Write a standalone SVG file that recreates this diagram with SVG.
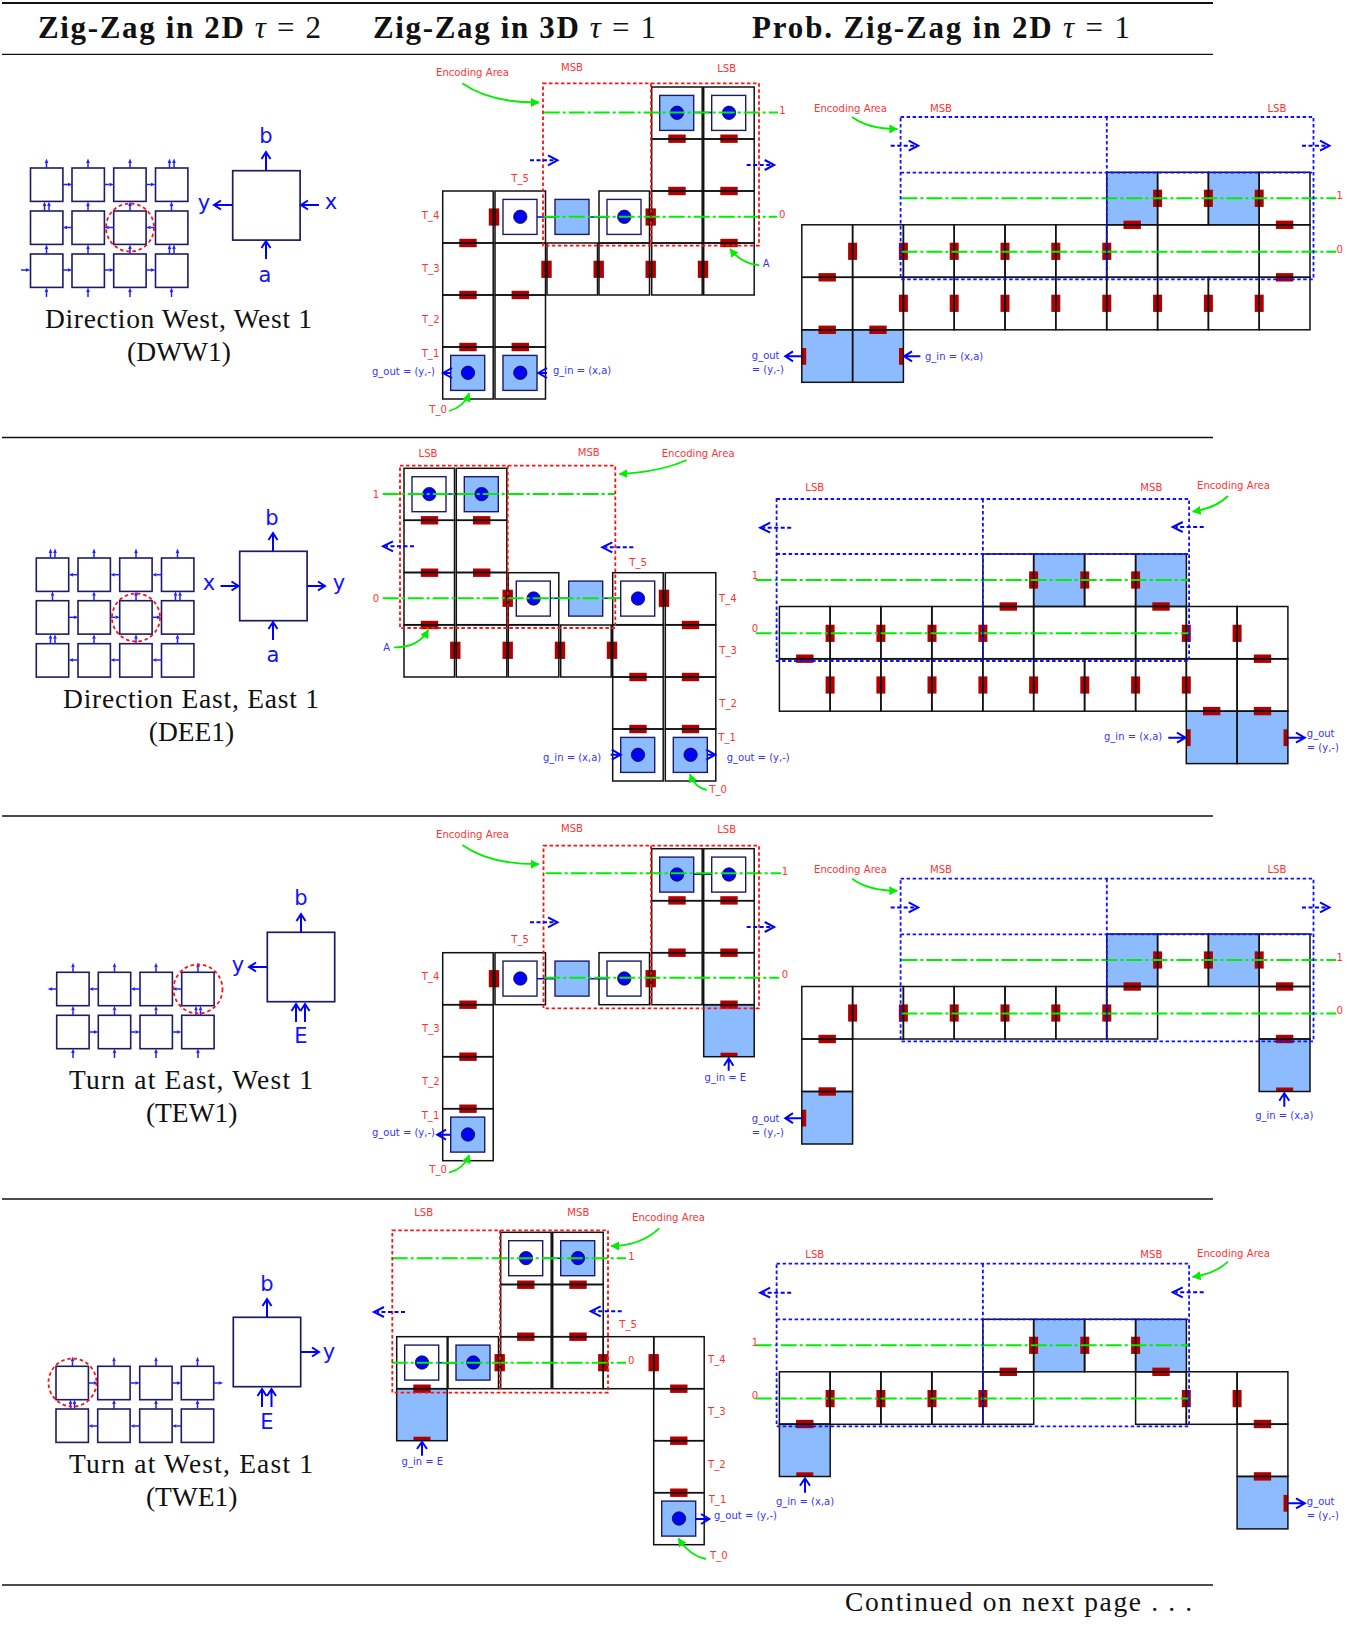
<svg xmlns="http://www.w3.org/2000/svg" width="1358" height="1625" viewBox="0 0 1358 1625">
<style>
text{font-family:"DejaVu Sans",sans-serif}
.cm{font-family:"Liberation Serif",serif;font-size:27.5px;fill:#111}
.hd{font-family:"Liberation Serif",serif;font-size:31px;fill:#111}
.hd .b{font-weight:bold}.hd .i{font-style:italic}
.big{font-size:21px;fill:#11f;text-anchor:middle}
.lr{font-size:10.1px;fill:#f33}
.lb{font-size:10px;fill:#33f}
.rule{stroke:#111;fill:none}
.cell{fill:none;stroke:#111;stroke-width:1.5}
.tile{fill:#fff;stroke:#1c1c66;stroke-width:1.6}
.bigt{fill:#fff;stroke:#1c1c66;stroke-width:1.7}
.fillb{fill:#8cbcff}
.inner{stroke:#1c1c66;stroke-width:1.4}
.dot{fill:#00f;stroke:#111;stroke-width:.8}
.r{fill:#b00000}
.ar{fill:none;stroke:#00f;stroke-width:2}
.ln{fill:none;stroke:#22f;stroke-width:1.5}
.hh{fill:#22f}
.g{fill:none;stroke:#00ee00;stroke-width:2;stroke-dasharray:16 3 3 3}
.ga{fill:none;stroke:#00ee00;stroke-width:1.8;marker-end:url(#gh)}
.dr{fill:none;stroke:#f11;stroke-width:1.8;stroke-dasharray:3.5 2.5}
.db{fill:none;stroke:#11f;stroke-width:1.8;stroke-dasharray:3.5 2.5}
.cn{fill:none;stroke:#00f;stroke-width:1.6}
.circ{fill:none;stroke:#f11;stroke-width:1.8;stroke-dasharray:3.5 2.8}
</style>
<defs>
<marker id="gh" markerUnits="userSpaceOnUse" markerWidth="10" markerHeight="10" refX="8" refY="4.5" orient="auto"><path d="M0 0L8.5 4.5L0 9Z" fill="#00ee00"/></marker>
<rect id="h" class="r" x="-8.7" y="-4.2" width="17.4" height="8.4"/>
<rect id="v" class="r" x="-5.2" y="-8.6" width="10.4" height="17.2"/>
<rect id="w" class="r" x="-4.5" y="-8.6" width="9" height="17.2"/>
<rect id="c" class="cell" width="50.5" height="52"/>
<rect id="p" class="cell" width="50.8" height="52.5"/>
<rect id="pf" class="fillb" width="50.8" height="52.5"/>
<rect id="cf" class="fillb" width="50.5" height="52"/>
<g id="iw"><rect class="inner" x="8" y="8.4" width="34" height="35" fill="#fff"/><circle class="dot" cx="25.3" cy="25.8" r="6.7"/></g>
<g id="ib"><rect class="inner fillb" x="8" y="8.4" width="34" height="35"/><circle class="dot" cx="25.3" cy="25.8" r="6.7"/></g>
<rect id="bb" class="inner fillb" x="8" y="8.4" width="34" height="35"/>
<rect id="t" class="tile" width="32.4" height="33.4"/>
<rect id="T" class="bigt" width="67.4" height="69.4"/>
<g id="au"><path class="ln" d="M0 0V-5"/><path class="hh" d="M-1.8-5L0-9.5L1.8-5Z"/></g>
<g id="ar"><path class="ln" d="M0 0H5"/><path class="hh" d="M5-1.8L9.5 0L5 1.8Z"/></g>
<g id="al"><path class="ln" d="M0 0H-5"/><path class="hh" d="M-5-1.8L-9.5 0L-5 1.8Z"/></g>
<path id="U" class="ar" d="M0 0V-18M-4.5-11L0-18L4.5-11"/>
<path id="R" class="ar" d="M0 0H18M11-4.5L18 0L11 4.5"/>
<path id="L" class="ar" d="M0 0H-18M-11-4.5L-18 0L-11 4.5"/>
<g id="dR"><path class="ar" d="M0 0H24" stroke-dasharray="4 2.5"/><path class="ar" d="M18-5L27.5 0L18 5"/></g>
<g id="dL"><path class="ar" d="M0 0H-28" stroke-dasharray="4 2.5"/><path class="ar" d="M-21-5L-31 0L-21 5"/></g>
</defs>

<g id="rules">
<path class="rule" stroke-width="2.2" d="M2 3H1213"/>
<path class="rule" stroke-width="1.3" d="M2 54.3H1213M2 437.5H1213M2 816H1213M2 1199H1213M2 1585H1213"/>
</g>
<g id="header">
<text class="hd" x="38" y="38" textLength="283" lengthAdjust="spacing"><tspan class="b">Zig-Zag in 2D </tspan><tspan class="i">τ</tspan> = 2</text>
<text class="hd" x="373" y="38" textLength="283" lengthAdjust="spacing"><tspan class="b">Zig-Zag in 3D </tspan><tspan class="i">τ</tspan> = 1</text>
<text class="hd" x="752" y="38" textLength="378" lengthAdjust="spacing"><tspan class="b">Prob. Zig-Zag in 2D </tspan><tspan class="i">τ</tspan> = 1</text>
</g>

<!-- ROW 1 LEFT -->
<g id="dww1-grid">
<use href="#t" x="30.5" y="168"/><use href="#t" x="72" y="168"/><use href="#t" x="113.7" y="168"/><use href="#t" x="155.5" y="168"/>
<use href="#t" x="30.5" y="211"/><use href="#t" x="72" y="211"/><use href="#t" x="113.7" y="211"/><use href="#t" x="155.5" y="211"/>
<use href="#t" x="30.5" y="254"/><use href="#t" x="72" y="254"/><use href="#t" x="113.7" y="254"/><use href="#t" x="155.5" y="254"/>
<g id="dww1-arrows">
<use href="#au" x="46.5" y="168"/><use href="#au" x="88" y="168"/><use href="#au" x="130" y="168"/><use href="#au" x="169.5" y="168"/><use href="#au" x="174" y="168"/>
<use href="#au" x="44.5" y="211"/><use href="#au" x="49" y="211"/><use href="#au" x="88" y="211"/><use href="#au" x="130" y="211"/><use href="#au" x="171.5" y="211"/>
<use href="#au" x="46.5" y="254"/><use href="#au" x="88" y="254"/><use href="#au" x="130" y="254"/><use href="#au" x="169.5" y="254"/><use href="#au" x="174" y="254"/>
<use href="#au" x="46.5" y="297"/><use href="#au" x="88" y="297"/><use href="#au" x="130" y="297"/><use href="#au" x="171.5" y="297"/>
<use href="#ar" x="63" y="184.5"/><use href="#ar" x="104.5" y="184.5"/><use href="#ar" x="146" y="184.5"/>
<use href="#al" x="72" y="227.5"/><use href="#al" x="113.7" y="227.5"/><use href="#al" x="155.5" y="227.5"/>
<use href="#ar" x="21" y="270"/><use href="#ar" x="63" y="270"/><use href="#ar" x="104.5" y="270"/><use href="#ar" x="146" y="270"/>
</g>
<circle class="circ" cx="130" cy="227.5" r="24"/>
</g>
<g id="dww1-tile">
<use href="#T" x="232.7" y="170.7"/>
<use href="#U" x="266" y="170"/><use href="#L" x="232" y="205"/><use href="#L" x="319" y="205"/><use href="#U" x="266" y="259"/>
<text class="big" x="266" y="143">b</text><text class="big" x="204" y="210">y</text><text class="big" x="331" y="209">x</text><text class="big" x="265" y="282">a</text>
</g>
<g id="dww1-caption">
<text class="cm" x="45" y="328" textLength="267" lengthAdjust="spacing">Direction West, West 1</text>
<text class="cm" x="179" y="361" text-anchor="middle">(DWW1)</text>
</g>

<!-- ROW 1 MIDDLE -->
<g id="m1">
<path class="cn" d="M537 217H608M694 112.5H712"/>
<use href="#h" x="677" y="138.7"/><use href="#h" x="729" y="138.7"/><use href="#h" x="677" y="191"/><use href="#h" x="729" y="191"/><use href="#h" x="468" y="243"/><use href="#h" x="729" y="243"/><use href="#h" x="468" y="295"/><use href="#h" x="520.3" y="295"/><use href="#h" x="468" y="347"/><use href="#h" x="520.3" y="347"/>
<use href="#v" x="494" y="217"/><use href="#v" x="650.7" y="217"/><use href="#v" x="546.5" y="269.3"/><use href="#v" x="598.7" y="269.3"/><use href="#v" x="650.7" y="269.3"/><use href="#v" x="703" y="269.3"/>
<use href="#c" x="651.7" y="87"/><use href="#c" x="703.7" y="87"/><use href="#c" x="651.7" y="139"/><use href="#c" x="703.7" y="139"/>
<use href="#c" x="442.7" y="191"/><use href="#c" x="495" y="191"/><use href="#c" x="599" y="191"/><use href="#c" x="651.7" y="191"/><use href="#c" x="703.7" y="191"/>
<use href="#c" x="442.7" y="243"/><use href="#c" x="495" y="243"/><use href="#c" x="547" y="243"/><use href="#c" x="599" y="243"/><use href="#c" x="651.7" y="243"/><use href="#c" x="703.7" y="243"/>
<use href="#c" x="442.7" y="295"/><use href="#c" x="495" y="295"/><use href="#c" x="442.7" y="347"/><use href="#c" x="495" y="347"/>
<use href="#ib" x="651.7" y="87"/><use href="#iw" x="703.7" y="87"/><use href="#iw" x="495" y="191"/><use href="#bb" x="547" y="191"/><use href="#iw" x="599" y="191"/><use href="#ib" x="442.7" y="347"/><use href="#ib" x="495" y="347"/>
<path class="g" d="M543.7 112.5H778M543.7 216.7H777"/>
<path class="dr" d="M543 83.3H759V245.7H543ZM651 83.3V245.7"/>
<use href="#dR" x="530" y="160.3"/><use href="#dR" x="746.7" y="165"/>
<path class="ar" d="M451 373H443M452 368L443 373L452 378M547 373H538.3M547 368L538.3 373L547 378"/>
<path class="ga" d="M462.3 83.3Q490 103 539 102.5"/><path class="ga" d="M759.3 265.3Q742 264 730 249"/><path class="ga" d="M449 411Q464 407 469.3 393.3"/>
<text class="lr" x="436" y="76">Encoding Area</text><text class="lr" x="572" y="70.7" text-anchor="middle">MSB</text><text class="lr" x="726.7" y="72" text-anchor="middle">LSB</text>
<text class="lr" x="511.3" y="182">T_5</text><text class="lr" x="421.7" y="219">T_4</text><text class="lr" x="422" y="271.7">T_3</text><text class="lr" x="422" y="323.3">T_2</text><text class="lr" x="421.7" y="357.3">T_1</text><text class="lr" x="429.3" y="412.7">T_0</text>
<text class="lr" x="779.3" y="114">1</text><text class="lr" x="779" y="217.7">0</text>
<text class="lb" x="372" y="375">g_out = (y,-)</text><text class="lb" x="553" y="374">g_in = (x,a)</text><text class="lb" x="762.7" y="266.7">A</text>
</g>

<!-- ROW 1 RIGHT -->
<g id="p1">
<use href="#pf" x="1106.8" y="172.3"/><use href="#pf" x="1208.4" y="172.3"/><use href="#pf" x="801.8" y="329.8"/><use href="#pf" x="852.6" y="329.8"/>
<use href="#w" x="1157.6" y="198.3"/><use href="#w" x="1208.4" y="198.3"/><use href="#w" x="1259.2" y="198.3"/>
<use href="#w" x="852.6" y="251.3"/><use href="#w" x="903.4" y="251.3"/><use href="#w" x="954.2" y="251.3"/><use href="#w" x="1005" y="251.3"/><use href="#w" x="1055.8" y="251.3"/><use href="#w" x="1106.8" y="251.3"/>
<use href="#w" x="903.4" y="303.3"/><use href="#w" x="954.2" y="303.3"/><use href="#w" x="1005" y="303.3"/><use href="#w" x="1055.8" y="303.3"/><use href="#w" x="1106.8" y="303.3"/><use href="#w" x="1157.6" y="303.3"/><use href="#w" x="1208.4" y="303.3"/><use href="#w" x="1259.2" y="303.3"/>
<use href="#h" x="1132.2" y="224.8"/><use href="#h" x="1284.6" y="224.8"/><use href="#h" x="827.2" y="277.3"/><use href="#h" x="1284.6" y="277.3"/><use href="#h" x="827.2" y="329.8"/><use href="#h" x="878" y="329.8"/>
<rect class="r" x="801.8" y="348" width="4.4" height="16.8"/><rect class="r" x="899" y="348" width="4.4" height="16.8"/>
<use href="#p" x="1106.8" y="172.3"/><use href="#p" x="1157.6" y="172.3"/><use href="#p" x="1208.4" y="172.3"/><use href="#p" x="1259.2" y="172.3"/>
<use href="#p" x="801.8" y="224.8"/><use href="#p" x="852.6" y="224.8"/><use href="#p" x="903.4" y="224.8"/><use href="#p" x="954.2" y="224.8"/><use href="#p" x="1005" y="224.8"/><use href="#p" x="1055.8" y="224.8"/><use href="#p" x="1106.8" y="224.8"/>
<rect class="cell" x="1157.6" y="224.8" width="101.6" height="52.5"/><use href="#p" x="1259.2" y="224.8"/>
<use href="#p" x="801.8" y="277.3"/><use href="#p" x="852.6" y="277.3"/><use href="#p" x="903.4" y="277.3"/><use href="#p" x="954.2" y="277.3"/><use href="#p" x="1005" y="277.3"/><use href="#p" x="1055.8" y="277.3"/><use href="#p" x="1106.8" y="277.3"/><use href="#p" x="1157.6" y="277.3"/><use href="#p" x="1208.4" y="277.3"/><use href="#p" x="1259.2" y="277.3"/>
<use href="#p" x="801.8" y="329.8"/><use href="#p" x="852.6" y="329.8"/>
<path class="g" d="M901.4 198.3H1336.3M901.4 251.7H1336.3"/>
<path class="db" d="M900.6 117H1313.5V279.3H900.6ZM900.6 172.7H1313.5M1106.8 117V279.3"/>
<use href="#dR" x="890.7" y="145.7"/><use href="#dR" x="1302" y="145.7"/>
<path class="ar" d="M801.8 356.3H785.3M793 351.3L785.3 356.3L793 361.3M920.3 356.3H904M912 351.3L904 356.3L912 361.3"/>
<path class="ga" d="M852.2 117Q868 129 897.4 129"/>
<text class="lr" x="814" y="111.7">Encoding Area</text><text class="lr" x="941" y="111.7" text-anchor="middle">MSB</text><text class="lr" x="1276.9" y="111.7" text-anchor="middle">LSB</text>
<text class="lr" x="1336.5" y="199.3">1</text><text class="lr" x="1336.5" y="252.7">0</text>
<text class="lb" x="751.8" y="359.3">g_out</text><text class="lb" x="751.8" y="373.3">= (y,-)</text><text class="lb" x="925" y="360">g_in = (x,a)</text>
</g>

<!-- ROW 2 LEFT -->
<g id="dee1-grid">
<use href="#t" x="36.3" y="558"/><use href="#t" x="78" y="558"/><use href="#t" x="119.7" y="558"/><use href="#t" x="161.5" y="558"/>
<use href="#t" x="36.3" y="600.7"/><use href="#t" x="78" y="600.7"/><use href="#t" x="119.7" y="600.7"/><use href="#t" x="161.5" y="600.7"/>
<use href="#t" x="36.3" y="643.7"/><use href="#t" x="78" y="643.7"/><use href="#t" x="119.7" y="643.7"/><use href="#t" x="161.5" y="643.7"/>
<g id="dee1-arrows">
<use href="#au" x="50.5" y="558"/><use href="#au" x="55" y="558"/><use href="#au" x="94" y="558"/><use href="#au" x="136" y="558"/><use href="#au" x="177.5" y="558"/>
<use href="#au" x="52.5" y="600.7"/><use href="#au" x="94" y="600.7"/><use href="#au" x="136" y="600.7"/><use href="#au" x="175.5" y="600.7"/><use href="#au" x="180" y="600.7"/>
<use href="#au" x="50.5" y="643.7"/><use href="#au" x="55" y="643.7"/><use href="#au" x="94" y="643.7"/><use href="#au" x="136" y="643.7"/><use href="#au" x="177.5" y="643.7"/>
<use href="#al" x="78" y="574.7"/><use href="#al" x="119.7" y="574.7"/><use href="#al" x="161.5" y="574.7"/>
<use href="#ar" x="69" y="617.3"/><use href="#ar" x="110.5" y="617.3"/><use href="#ar" x="152" y="617.3"/>
<use href="#al" x="78" y="660"/><use href="#al" x="119.7" y="660"/><use href="#al" x="161.5" y="660"/>
</g>
<circle class="circ" cx="136" cy="617.5" r="24"/>
</g>
<g id="dee1-tile">
<use href="#T" x="239.7" y="551.3"/>
<use href="#U" x="273" y="551"/><use href="#R" x="307" y="586"/><use href="#R" x="220.5" y="586"/><use href="#U" x="273" y="640"/>
<text class="big" x="272" y="525">b</text><text class="big" x="209" y="590">x</text><text class="big" x="339" y="590">y</text><text class="big" x="273" y="661.7">a</text>
</g>
<g id="dee1-caption">
<text class="cm" x="63" y="708" textLength="256" lengthAdjust="spacing">Direction East, East 1</text>
<text class="cm" x="191.5" y="741" text-anchor="middle">(DEE1)</text>
</g>

<!-- ROW 2 MIDDLE -->
<g id="m2">
<path class="cn" d="M446.7 494H464M551 598.3H620.7"/>
<use href="#h" x="429.5" y="520.3"/><use href="#h" x="481.7" y="520.3"/><use href="#h" x="429.5" y="572.7"/><use href="#h" x="481.7" y="572.7"/><use href="#h" x="429.5" y="625"/><use href="#h" x="690.5" y="625"/><use href="#h" x="638" y="677"/><use href="#h" x="690.5" y="677"/><use href="#h" x="638" y="729"/><use href="#h" x="690.5" y="729"/>
<use href="#v" x="507.7" y="598.3"/><use href="#v" x="664" y="598.3"/><use href="#v" x="455.3" y="650.3"/><use href="#v" x="507.7" y="650.3"/><use href="#v" x="560" y="650.3"/><use href="#v" x="612" y="650.3"/>
<use href="#c" x="404" y="468.3"/><use href="#c" x="456.3" y="468.3"/><use href="#c" x="404" y="520.3"/><use href="#c" x="456.3" y="520.3"/>
<use href="#c" x="404" y="572.7"/><use href="#c" x="456.3" y="572.7"/><use href="#c" x="508.3" y="572.7"/><use href="#c" x="612.7" y="572.7"/><use href="#c" x="665.3" y="572.7"/>
<use href="#c" x="404" y="625"/><use href="#c" x="456.3" y="625"/><use href="#c" x="508.3" y="625"/><use href="#c" x="560.7" y="625"/><use href="#c" x="612.7" y="625"/><use href="#c" x="665.3" y="625"/>
<use href="#c" x="612.7" y="677"/><use href="#c" x="665.3" y="677"/><use href="#c" x="612.7" y="729"/><use href="#c" x="665.3" y="729"/>
<use href="#iw" x="404" y="468.3"/><use href="#ib" x="456.3" y="468.3"/><use href="#iw" x="508.3" y="572.7"/><use href="#bb" x="560.7" y="572.7"/><use href="#iw" x="612.7" y="572.7"/><use href="#ib" x="612.7" y="729"/><use href="#ib" x="665.3" y="729"/>
<path class="g" d="M382.7 494H615M382.7 598.3H620"/>
<path class="dr" d="M400 465.7H615.3V628H400ZM507.7 465.7V628"/>
<use href="#dL" x="414" y="546.3"/><use href="#dL" x="633.3" y="547.3"/>
<path class="ar" d="M610.7 754.7H620.7M611.7 749.7L620.7 754.7L611.7 759.7M707.3 754.7H715.3M706.3 749.7L715.3 754.7L706.3 759.7"/>
<path class="ga" d="M686.7 460Q660 472 619.3 474"/><path class="ga" d="M394 647.3Q418 648 428.3 630"/><path class="ga" d="M706.7 790Q695 788 690 774.3"/>
<text class="lr" x="661.7" y="457.3">Encoding Area</text><text class="lr" x="428" y="456.7" text-anchor="middle">LSB</text><text class="lr" x="588.7" y="456" text-anchor="middle">MSB</text>
<text class="lr" x="629.3" y="566">T_5</text><text class="lr" x="719" y="602.3">T_4</text><text class="lr" x="719.3" y="654.3">T_3</text><text class="lr" x="719.3" y="706.7">T_2</text><text class="lr" x="718.3" y="740.7">T_1</text><text class="lr" x="709.3" y="792.7">T_0</text>
<text class="lr" x="372.7" y="497.7">1</text><text class="lr" x="372.7" y="602">0</text>
<text class="lb" x="543" y="760.7">g_in = (x,a)</text><text class="lb" x="726.7" y="760.7">g_out = (y,-)</text><text class="lb" x="383.3" y="650.7">A</text>
</g>

<!-- ROW 2 RIGHT -->
<g id="p2">
<use href="#pf" x="1033.6" y="554"/><use href="#pf" x="1135.6" y="554"/><use href="#pf" x="1186.3" y="711.1"/><use href="#pf" x="1237.1" y="711.1"/>
<use href="#w" x="1033.6" y="580"/><use href="#w" x="1084.8" y="580"/><use href="#w" x="1135.6" y="580"/>
<use href="#w" x="830.1" y="633.3"/><use href="#w" x="880.9" y="633.3"/><use href="#w" x="932" y="633.3"/><use href="#w" x="982.9" y="633.3"/><use href="#w" x="1186.3" y="633.3"/><use href="#w" x="1237.1" y="633.3"/>
<use href="#w" x="830.1" y="685"/><use href="#w" x="880.9" y="685"/><use href="#w" x="932" y="685"/><use href="#w" x="982.9" y="685"/><use href="#w" x="1033.6" y="685"/><use href="#w" x="1084.8" y="685"/><use href="#w" x="1135.6" y="685"/><use href="#w" x="1186.3" y="685"/>
<use href="#h" x="1008.3" y="606.5"/><use href="#h" x="1161" y="606.5"/><use href="#h" x="804.8" y="658.7"/><use href="#h" x="1262.5" y="658.7"/><use href="#h" x="1211.7" y="711.1"/><use href="#h" x="1262.5" y="711.1"/>
<rect class="r" x="1186.3" y="729.3" width="4.4" height="16.8"/><rect class="r" x="1283.5" y="729.3" width="4.4" height="16.8"/>
<use href="#p" x="982.9" y="554"/><use href="#p" x="1033.6" y="554"/><use href="#p" x="1084.8" y="554"/><use href="#p" x="1135.6" y="554"/>
<use href="#p" x="779.4" y="606.5"/><use href="#p" x="830.1" y="606.5"/><use href="#p" x="880.9" y="606.5"/><use href="#p" x="932" y="606.5"/><use href="#p" x="982.9" y="606.5"/><rect class="cell" x="1033.6" y="606.5" width="102" height="52.5"/><use href="#p" x="1135.6" y="606.5"/><use href="#p" x="1186.3" y="606.5"/><use href="#p" x="1237.1" y="606.5"/>
<use href="#p" x="779.4" y="658.7"/><use href="#p" x="830.1" y="658.7"/><use href="#p" x="880.9" y="658.7"/><use href="#p" x="932" y="658.7"/><use href="#p" x="982.9" y="658.7"/><use href="#p" x="1033.6" y="658.7"/><use href="#p" x="1084.8" y="658.7"/><use href="#p" x="1135.6" y="658.7"/><use href="#p" x="1186.3" y="658.7"/><use href="#p" x="1237.1" y="658.7"/>
<use href="#p" x="1186.3" y="711.1"/><use href="#p" x="1237.1" y="711.1"/>
<path class="g" d="M755.7 580H1189.5M755.7 633.3H1189.5"/>
<path class="db" d="M776.6 499H1189.1V661H776.6ZM776.6 554H1189.1M982.9 499V661"/>
<use href="#dL" x="791.2" y="527.7"/><use href="#dL" x="1203.7" y="527"/>
<path class="ar" d="M1168.3 737.7H1185.6M1177 732.7L1185.6 737.7L1177 742.7M1287.9 737.7H1304.8M1296 732.7L1304.8 737.7L1296 742.7"/>
<path class="ga" d="M1228 496Q1216 508 1192.6 511.7"/>
<text class="lr" x="1197" y="489">Encoding Area</text><text class="lr" x="814.8" y="490.7" text-anchor="middle">LSB</text><text class="lr" x="1151.3" y="490.7" text-anchor="middle">MSB</text>
<text class="lr" x="751.8" y="578.7">1</text><text class="lr" x="751.8" y="631.7">0</text>
<text class="lb" x="1104" y="740">g_in = (x,a)</text><text class="lb" x="1306.8" y="736.7">g_out</text><text class="lb" x="1306.8" y="751">= (y,-)</text>
</g>

<!-- ROW 3 LEFT -->
<g id="tew1-grid">
<use href="#t" x="56.7" y="972.3"/><use href="#t" x="98.3" y="972.3"/><use href="#t" x="140" y="972.3"/><use href="#t" x="181.7" y="972.3"/>
<use href="#t" x="56.7" y="1015.3"/><use href="#t" x="98.3" y="1015.3"/><use href="#t" x="140" y="1015.3"/><use href="#t" x="181.7" y="1015.3"/>
<g id="tew1-arrows">
<use href="#au" x="73" y="972.3"/><use href="#au" x="114.5" y="972.3"/><use href="#au" x="156" y="972.3"/><use href="#au" x="198" y="972.3"/>
<use href="#au" x="73" y="1015.3"/><use href="#au" x="114.5" y="1015.3"/><use href="#au" x="156" y="1015.3"/><use href="#au" x="196" y="1015.3"/><use href="#au" x="200.5" y="1015.3"/>
<use href="#au" x="73" y="1058"/><use href="#au" x="114.5" y="1058"/><use href="#au" x="156" y="1058"/><use href="#au" x="198" y="1058"/>
<use href="#al" x="57" y="989"/><use href="#al" x="98.3" y="989"/><use href="#al" x="140" y="989"/><use href="#al" x="181.7" y="989"/>
<use href="#ar" x="89" y="1032"/><use href="#ar" x="130.5" y="1032"/><use href="#ar" x="172" y="1032"/>
</g>
<circle class="circ" cx="198" cy="989" r="24.5"/>
</g>
<g id="tew1-tile">
<use href="#T" x="267.3" y="932.3"/>
<use href="#U" x="301" y="932"/><use href="#L" x="267" y="967"/><use href="#U" x="296" y="1022"/><use href="#U" x="305" y="1022"/>
<text class="big" x="301" y="905">b</text><text class="big" x="238" y="971.7">y</text><text class="big" x="301" y="1043">E</text>
</g>
<g id="tew1-caption">
<text class="cm" x="69" y="1089" textLength="244" lengthAdjust="spacing">Turn at East, West 1</text>
<text class="cm" x="191.7" y="1122" text-anchor="middle">(TEW1)</text>
</g>

<!-- ROW 3 MIDDLE -->
<g id="m3" transform="translate(0 761.7)">
<path class="cn" d="M537 217H608M694 112.5H712"/>
<use href="#cf" x="703.7" y="243"/>
<use href="#h" x="677" y="138.7"/><use href="#h" x="729" y="138.7"/><use href="#h" x="677" y="191"/><use href="#h" x="729" y="191"/><use href="#h" x="468" y="243"/><use href="#h" x="729" y="243"/><use href="#h" x="468" y="295"/><use href="#h" x="468" y="347"/>
<rect class="r" x="720.5" y="291" width="17" height="4"/>
<use href="#v" x="494" y="217"/><use href="#v" x="650.7" y="217"/>
<use href="#c" x="651.7" y="87"/><use href="#c" x="703.7" y="87"/><use href="#c" x="651.7" y="139"/><use href="#c" x="703.7" y="139"/>
<use href="#c" x="442.7" y="191"/><use href="#c" x="495" y="191"/><use href="#c" x="599" y="191"/><use href="#c" x="651.7" y="191"/><use href="#c" x="703.7" y="191"/>
<use href="#c" x="442.7" y="243"/><use href="#c" x="703.7" y="243"/>
<use href="#c" x="442.7" y="295"/><use href="#c" x="442.7" y="347"/>
<use href="#ib" x="651.7" y="87"/><use href="#iw" x="703.7" y="87"/><use href="#iw" x="495" y="191"/><use href="#bb" x="547" y="191"/><use href="#iw" x="599" y="191"/><use href="#ib" x="442.7" y="347"/>
<path class="g" d="M545.7 111.6H781M544.3 216H779"/>
<path class="dr" d="M543.5 84H759V246.6H543.5ZM651 84V246.6"/>
<use href="#dR" x="530" y="160.6"/><use href="#dR" x="746.7" y="165.3"/>
<path class="ar" d="M451 373H437.3M446 368L437.3 373L446 378M728.7 296.6V309M724 304L728.7 296.6L733.4 304"/>
<path class="ga" d="M462.3 83.3Q490 103 539 102.5"/><path class="ga" d="M449 411Q464 407 469.3 393.3"/>
<text class="lr" x="436" y="76">Encoding Area</text><text class="lr" x="572" y="70" text-anchor="middle">MSB</text><text class="lr" x="726.7" y="71.6" text-anchor="middle">LSB</text>
<text class="lr" x="511.3" y="181">T_5</text><text class="lr" x="421.7" y="218.3">T_4</text><text class="lr" x="422" y="270">T_3</text><text class="lr" x="422" y="323.3">T_2</text><text class="lr" x="421.7" y="357">T_1</text><text class="lr" x="429.3" y="411">T_0</text>
<text class="lr" x="781.7" y="113">1</text><text class="lr" x="781.7" y="216.3">0</text>
<text class="lb" x="372" y="374.3">g_out = (y,-)</text><text class="lb" x="725.3" y="319.3" text-anchor="middle">g_in = E</text>
</g>

<!-- ROW 3 RIGHT -->
<g id="p3" transform="translate(0 761.7)">
<use href="#pf" x="1106.8" y="172.3"/><use href="#pf" x="1208.4" y="172.3"/><use href="#pf" x="1259.2" y="277.3"/><use href="#pf" x="801.8" y="329.8"/>
<use href="#w" x="1157.6" y="198.3"/><use href="#w" x="1208.4" y="198.3"/><use href="#w" x="1259.2" y="198.3"/>
<use href="#w" x="852.6" y="251.3"/><use href="#w" x="903.4" y="251.3"/><use href="#w" x="954.2" y="251.3"/><use href="#w" x="1005" y="251.3"/><use href="#w" x="1055.8" y="251.3"/><use href="#w" x="1106.8" y="251.3"/>
<use href="#h" x="1132.2" y="224.8"/><use href="#h" x="1284.6" y="224.8"/><use href="#h" x="827.2" y="277.3"/><use href="#h" x="1284.6" y="277.3"/><use href="#h" x="827.2" y="329.8"/>
<rect class="r" x="1276.1" y="325.8" width="17" height="4"/><rect class="r" x="801.8" y="348" width="4.4" height="16.8"/>
<use href="#p" x="1106.8" y="172.3"/><use href="#p" x="1157.6" y="172.3"/><use href="#p" x="1208.4" y="172.3"/><use href="#p" x="1259.2" y="172.3"/>
<use href="#p" x="801.8" y="224.8"/><use href="#p" x="852.6" y="224.8"/><use href="#p" x="903.4" y="224.8"/><use href="#p" x="954.2" y="224.8"/><use href="#p" x="1005" y="224.8"/><use href="#p" x="1055.8" y="224.8"/><use href="#p" x="1106.8" y="224.8"/><use href="#p" x="1259.2" y="224.8"/>
<use href="#p" x="801.8" y="277.3"/><use href="#p" x="1259.2" y="277.3"/><use href="#p" x="801.8" y="329.8"/>
<path class="g" d="M901.4 198.3H1336.3M901.4 251.7H1336.3"/>
<path class="db" d="M900.6 117H1313.5V279.6H900.6ZM900.6 172.7H1313.5M1106.8 117V279.6"/>
<use href="#dR" x="890.7" y="145.7"/><use href="#dR" x="1302" y="145.7"/>
<path class="ar" d="M801.8 356.5H785.3M793 351.5L785.3 356.5L793 361.5M1284.3 331.6V345M1279.3 339L1284.3 331.6L1289.3 339"/>
<path class="ga" d="M852.2 117Q868 129 897.4 129"/>
<text class="lr" x="814" y="111.7">Encoding Area</text><text class="lr" x="941" y="111.7" text-anchor="middle">MSB</text><text class="lr" x="1276.9" y="111.7" text-anchor="middle">LSB</text>
<text class="lr" x="1336.5" y="199.3">1</text><text class="lr" x="1336.5" y="252.7">0</text>
<text class="lb" x="751.8" y="360">g_out</text><text class="lb" x="751.8" y="374">= (y,-)</text><text class="lb" x="1284.3" y="357" text-anchor="middle">g_in = (x,a)</text>
</g>

<!-- ROW 4 LEFT -->
<g id="twe1-grid">
<use href="#t" x="56" y="1366.3"/><use href="#t" x="97.7" y="1366.3"/><use href="#t" x="139.7" y="1366.3"/><use href="#t" x="181.3" y="1366.3"/>
<use href="#t" x="56" y="1409"/><use href="#t" x="97.7" y="1409"/><use href="#t" x="139.7" y="1409"/><use href="#t" x="181.3" y="1409"/>
<g id="twe1-arrows">
<use href="#au" x="72.5" y="1366.3"/><use href="#au" x="114" y="1366.3"/><use href="#au" x="156" y="1366.3"/><use href="#au" x="197.5" y="1366.3"/>
<use href="#au" x="70.5" y="1409"/><use href="#au" x="74.5" y="1409"/><use href="#au" x="114" y="1409"/><use href="#au" x="156" y="1409"/><use href="#au" x="197.5" y="1409"/>
<use href="#ar" x="88.7" y="1383"/><use href="#ar" x="130.3" y="1383"/><use href="#ar" x="172" y="1383"/><use href="#ar" x="213.7" y="1383"/>
<use href="#al" x="97.7" y="1426"/><use href="#al" x="139.7" y="1426"/><use href="#al" x="181.3" y="1426"/>
</g>
<circle class="circ" cx="72.5" cy="1382.5" r="24"/>
</g>
<g id="twe1-tile">
<use href="#T" x="233.3" y="1317.3"/>
<use href="#U" x="267" y="1317"/><use href="#R" x="301" y="1352"/><use href="#U" x="262" y="1407"/><use href="#U" x="271.5" y="1407"/>
<text class="big" x="267" y="1290.7">b</text><text class="big" x="329" y="1359">y</text><text class="big" x="267" y="1429">E</text>
</g>
<g id="twe1-caption">
<text class="cm" x="69" y="1473" textLength="244" lengthAdjust="spacing">Turn at West, East 1</text>
<text class="cm" x="191.7" y="1506" text-anchor="middle">(TWE1)</text>
</g>

<!-- ROW 4 MIDDLE -->
<g id="m4">
<path class="cn" d="M542.7 1258.3H560M439 1362.7H456.7"/>
<use href="#cf" x="396.7" y="1388.7"/>
<use href="#h" x="525.8" y="1284.7"/><use href="#h" x="578" y="1284.7"/><use href="#h" x="525.8" y="1336.7"/><use href="#h" x="578" y="1336.7"/><use href="#h" x="422" y="1388.7"/><use href="#h" x="678.8" y="1388.7"/><use href="#h" x="678.8" y="1440.7"/><use href="#h" x="678.8" y="1492.7"/>
<rect class="r" x="413.5" y="1436.7" width="17" height="4"/>
<use href="#v" x="499.7" y="1362.7"/><use href="#v" x="603.3" y="1362.7"/><use href="#v" x="653.7" y="1362.7"/>
<use href="#c" x="500.7" y="1232.3"/><use href="#c" x="552.7" y="1232.3"/><use href="#c" x="500.7" y="1284.7"/><use href="#c" x="552.7" y="1284.7"/>
<use href="#c" x="396.7" y="1336.7"/><use href="#c" x="448" y="1336.7"/><use href="#c" x="500.7" y="1336.7"/><use href="#c" x="552.7" y="1336.7"/><use href="#c" x="603.3" y="1336.7"/><use href="#c" x="653.7" y="1336.7"/>
<use href="#c" x="396.7" y="1388.7"/><use href="#c" x="653.7" y="1388.7"/><use href="#c" x="653.7" y="1440.7"/><use href="#c" x="653.7" y="1492.7"/>
<use href="#iw" x="500.7" y="1232.3"/><use href="#ib" x="552.7" y="1232.3"/><use href="#iw" x="396.7" y="1336.7"/><use href="#ib" x="448" y="1336.7"/><use href="#ib" x="653.7" y="1492.7"/>
<path class="g" d="M391.7 1258.3H626M391.7 1362.7H626"/>
<path class="dr" d="M392.3 1230.3H608V1392.7H392.3ZM500 1230.3V1392.7"/>
<use href="#dL" x="405" y="1312"/><use href="#dL" x="621.7" y="1311.3"/>
<path class="ar" d="M422 1455.7V1441.7M417 1449L422 1441.7L427 1449M695.7 1519H709.3M701 1514L709.3 1519L701 1524"/>
<path class="ga" d="M659.3 1228.3Q640 1246 611 1246"/><path class="ga" d="M706 1559Q690 1556 678.3 1538.3"/>
<text class="lr" x="632" y="1221">Encoding Area</text><text class="lr" x="423.7" y="1216" text-anchor="middle">LSB</text><text class="lr" x="578.3" y="1216" text-anchor="middle">MSB</text>
<text class="lr" x="619.3" y="1328.3">T_5</text><text class="lr" x="708" y="1363.3">T_4</text><text class="lr" x="708" y="1415">T_3</text><text class="lr" x="708" y="1468.3">T_2</text><text class="lr" x="708.7" y="1503.3">T_1</text><text class="lr" x="710" y="1559.3">T_0</text>
<text class="lr" x="628.3" y="1260">1</text><text class="lr" x="628" y="1364">0</text>
<text class="lb" x="422.3" y="1465.3" text-anchor="middle">g_in = E</text><text class="lb" x="714" y="1519.3">g_out = (y,-)</text>
</g>

<!-- ROW 4 RIGHT -->
<g id="p4" transform="translate(0 765.3)">
<use href="#pf" x="1033.6" y="554"/><use href="#pf" x="1135.6" y="554"/><use href="#pf" x="779.4" y="658.7"/><use href="#pf" x="1237.1" y="711.1"/>
<use href="#w" x="1033.6" y="580"/><use href="#w" x="1084.8" y="580"/><use href="#w" x="1135.6" y="580"/>
<use href="#w" x="830.1" y="633.3"/><use href="#w" x="880.9" y="633.3"/><use href="#w" x="932" y="633.3"/><use href="#w" x="982.9" y="633.3"/><use href="#w" x="1186.3" y="633.3"/><use href="#w" x="1237.1" y="633.3"/>
<use href="#h" x="1008.3" y="606.5"/><use href="#h" x="1161" y="606.5"/><use href="#h" x="804.8" y="658.7"/><use href="#h" x="1262.5" y="658.7"/><use href="#h" x="1262.5" y="711.1"/>
<rect class="r" x="796.3" y="707" width="17" height="4"/><rect class="r" x="1283.5" y="729.6" width="4.4" height="16.8"/>
<use href="#p" x="982.9" y="554"/><use href="#p" x="1033.6" y="554"/><use href="#p" x="1084.8" y="554"/><use href="#p" x="1135.6" y="554"/>
<use href="#p" x="779.4" y="606.5"/><use href="#p" x="830.1" y="606.5"/><use href="#p" x="880.9" y="606.5"/><use href="#p" x="932" y="606.5"/><use href="#p" x="982.9" y="606.5"/><use href="#p" x="1135.6" y="606.5"/><use href="#p" x="1186.3" y="606.5"/><use href="#p" x="1237.1" y="606.5"/>
<use href="#p" x="779.4" y="658.7"/><use href="#p" x="1237.1" y="658.7"/><use href="#p" x="1237.1" y="711.1"/>
<path class="g" d="M755.7 580H1189.5M755.7 633.3H1189.5"/>
<path class="db" d="M776.6 498.4H1189.1V661H776.6ZM776.6 554H1189.1M982.9 498.4V661"/>
<use href="#dL" x="791.2" y="527.4"/><use href="#dL" x="1203.7" y="527"/>
<path class="ar" d="M805 727.4V713M800 720.5L805 713L810 720.5M1287.9 738H1304.8M1296 733L1304.8 738L1296 743"/>
<path class="ga" d="M1228 496.4Q1216 508 1192.6 511.7"/>
<text class="lr" x="1197" y="491.4">Encoding Area</text><text class="lr" x="814.8" y="492.7" text-anchor="middle">LSB</text><text class="lr" x="1151.3" y="492.7" text-anchor="middle">MSB</text>
<text class="lr" x="751.8" y="580.7">1</text><text class="lr" x="751.8" y="633.4">0</text>
<text class="lb" x="805" y="740" text-anchor="middle">g_in = (x,a)</text><text class="lb" x="1306.8" y="740">g_out</text><text class="lb" x="1306.8" y="754">= (y,-)</text>
</g>

<text id="continued" class="cm" x="845" y="1611" textLength="347" lengthAdjust="spacing">Continued on next page . . .</text>
</svg>
